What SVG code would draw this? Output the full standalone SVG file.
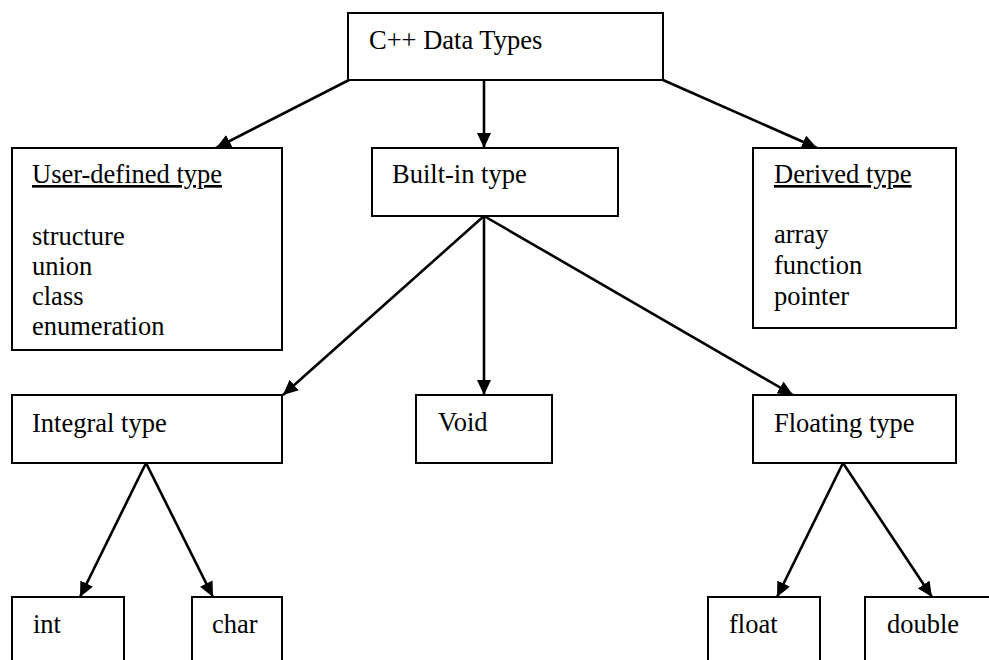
<svg xmlns="http://www.w3.org/2000/svg" width="989" height="660" viewBox="0 0 989 660">
  <style>
    .box { fill: #ffffff; stroke: #000000; stroke-width: 2; }
    .lbl { font-family: "Liberation Serif", "Times New Roman", serif; font-size: 26.5px; fill: #000000; }
    .ul { text-decoration: underline; }
    .edge { stroke: #000000; stroke-width: 2.6; fill: none; marker-end: url(#arrow); }
  </style>
  <defs>
    <!-- solid triangular arrowhead shared by every connector -->
    <marker id="arrow" markerUnits="userSpaceOnUse" markerWidth="16" markerHeight="14" refX="15" refY="7" orient="auto">
      <path d="M0,0 L15,7 L0,14 z" fill="#000000"/>
    </marker>
  </defs>
  <rect width="989" height="660" fill="#ffffff"/>

  <g id="connectors">
    <line class="edge" x1="349" y1="80" x2="216" y2="148"/>
    <line class="edge" x1="484" y1="80" x2="484" y2="148"/>
    <line class="edge" x1="663" y1="80" x2="817" y2="148"/>
    <line class="edge" x1="484" y1="216" x2="283" y2="395"/>
    <line class="edge" x1="484" y1="216" x2="484" y2="395"/>
    <line class="edge" x1="484" y1="216" x2="793" y2="395"/>
    <line class="edge" x1="146" y1="463" x2="80" y2="597"/>
    <line class="edge" x1="146" y1="463" x2="213" y2="597"/>
    <line class="edge" x1="843" y1="463" x2="777" y2="597"/>
    <line class="edge" x1="843" y1="463" x2="932" y2="597"/>
  </g>

  <g id="cpp-data-types">
    <rect class="box" x="348" y="13" width="315" height="67"/>
    <text class="lbl" x="369" y="49">C++ Data Types</text>
  </g>

  <g id="user-defined-type">
    <rect class="box" x="12" y="148" width="270" height="202"/>
    <text class="lbl ul" x="32" y="183">User-defined type</text>
    <text class="lbl" x="32" y="245">structure</text>
    <text class="lbl" x="32" y="275">union</text>
    <text class="lbl" x="32" y="305">class</text>
    <text class="lbl" x="32" y="335">enumeration</text>
  </g>

  <g id="built-in-type">
    <rect class="box" x="372" y="148" width="246" height="68"/>
    <text class="lbl" x="392" y="183">Built-in type</text>
  </g>

  <g id="derived-type">
    <rect class="box" x="753" y="148" width="203" height="180"/>
    <text class="lbl ul" x="774" y="183">Derived type</text>
    <text class="lbl" x="774" y="243">array</text>
    <text class="lbl" x="774" y="274">function</text>
    <text class="lbl" x="774" y="305">pointer</text>
  </g>

  <g id="integral-type">
    <rect class="box" x="12" y="395" width="270" height="68"/>
    <text class="lbl" x="32" y="432">Integral type</text>
  </g>

  <g id="void">
    <rect class="box" x="416" y="395" width="136" height="68"/>
    <text class="lbl" x="438" y="431">Void</text>
  </g>

  <g id="floating-type">
    <rect class="box" x="753" y="395" width="203" height="68"/>
    <text class="lbl" x="774" y="432">Floating type</text>
  </g>

  <!-- leaf boxes run off the bottom edge -->
  <g id="int">
    <rect class="box" x="12" y="597" width="112" height="90"/>
    <text class="lbl" x="33" y="633">int</text>
  </g>

  <g id="char">
    <rect class="box" x="192" y="597" width="90" height="90"/>
    <text class="lbl" x="212" y="633">char</text>
  </g>

  <g id="float">
    <rect class="box" x="708" y="597" width="112" height="90"/>
    <text class="lbl" x="729" y="633">float</text>
  </g>

  <g id="double">
    <rect class="box" x="865" y="597" width="140" height="90"/>
    <text class="lbl" x="887" y="633">double</text>
  </g>
</svg>
